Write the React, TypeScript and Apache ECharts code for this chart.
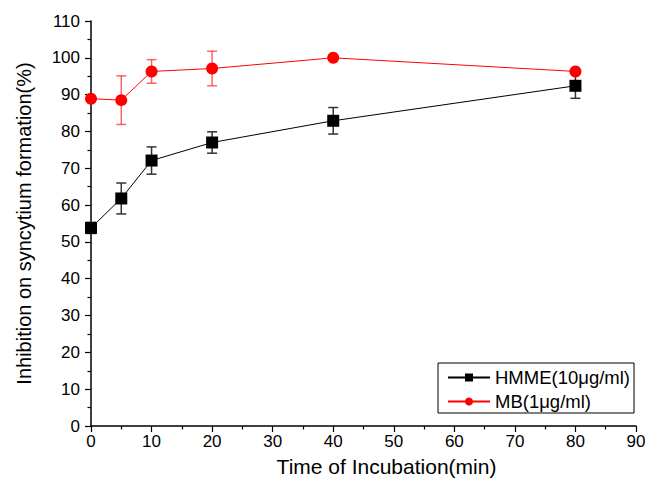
import React, { useEffect, useRef } from "react";
import * as echarts from "echarts";

const times = [0, 5, 10, 20, 40, 80];
const hmmeValues = [53.8, 61.8, 72.1, 77.0, 82.9, 92.4];
const hmmeErrors = [1.5, 4.2, 3.7, 2.9, 3.6, 3.4];
const mbValues = [88.9, 88.5, 96.3, 97.1, 100.0, 96.3];
const mbErrors = [0, 6.6, 3.2, 4.7, 0, 0];
const hmmeName = "HMME(10\u03BCg/ml)";
const mbName = "MB(1\u03BCg/ml)";

const FONT = "'Liberation Sans', Arial, Helvetica, sans-serif";

function errData(vals: number[], errs: number[]) {
  return times
    .map((t, i) => [t, vals[i] - errs[i], vals[i] + errs[i]])
    .filter((_, i) => errs[i] > 0);
}

function errSeries(vals: number[], errs: number[], color: string) {
  return {
    type: "custom",
    z: 1,
    silent: true,
    encode: { x: 0, y: [1, 2] },
    data: errData(vals, errs),
    renderItem: (params: any, api: any) => {
      const x = api.value(0);
      const lo = api.value(1);
      const hi = api.value(2);
      const pTop = api.coord([x, hi]);
      const pBot = api.coord([x, lo]);
      const w = 5;
      const style = { stroke: color, lineWidth: 1.5 };
      return {
        type: "group",
        children: [
          { type: "line", shape: { x1: pTop[0], y1: pTop[1], x2: pBot[0], y2: pBot[1] }, style },
          { type: "line", shape: { x1: pTop[0] - w, y1: pTop[1], x2: pTop[0] + w, y2: pTop[1] }, style },
          { type: "line", shape: { x1: pBot[0] - w, y1: pBot[1], x2: pBot[0] + w, y2: pBot[1] }, style },
        ],
      };
    },
  };
}

export default function App() {
  const ref = useRef<HTMLDivElement>(null);
  useEffect(() => {
    if (!ref.current) return;
    const chart = echarts.init(ref.current, undefined, { renderer: "svg" });
    const axisCommon = {
      axisLine: { show: true, lineStyle: { color: "#000", width: 1.5 } },
      axisTick: { show: true, inside: false, length: 6, lineStyle: { color: "#000", width: 1.2 } },
      minorTick: { show: true, splitNumber: 2, length: 3.5, lineStyle: { color: "#000", width: 1.2 } },
      splitLine: { show: false },
      nameLocation: "middle" as const,
    };
    chart.setOption({
      animation: false,
      backgroundColor: "#fff",
      grid: { left: 91, right: 24, top: 21, bottom: 58, containLabel: false },
      xAxis: {
        type: "value",
        min: 0,
        max: 90,
        interval: 10,
        name: "Time of Incubation(min)",
        nameGap: 30,
        ...axisCommon,
        nameTextStyle: { fontFamily: FONT, fontSize: 21, color: "#000", padding: [0, 0, 0, 46] },
        axisLabel: { fontFamily: FONT, fontSize: 17, color: "#000", margin: 7 },
      },
      yAxis: {
        type: "value",
        min: 0,
        max: 110,
        interval: 10,
        name: "Inhibition on syncytium formation(%)",
        nameGap: 57,
        ...axisCommon,
        nameTextStyle: { fontFamily: FONT, fontSize: 20, color: "#000" },
        axisLabel: { fontFamily: FONT, fontSize: 17, color: "#000", margin: 11 },
      },
      legend: {
        data: [hmmeName, mbName],
        orient: "vertical",
        left: 438,
        top: 363,
        itemWidth: 42,
        itemHeight: 10,
        itemGap: 5,
        padding: [5, 4, 2, 9],
        borderColor: "#000",
        borderWidth: 1,
        borderRadius: 0,
        backgroundColor: "#fff",
        textStyle: { fontFamily: FONT, fontSize: 18.5, color: "#000" },
      },
      series: [
        errSeries(hmmeValues, hmmeErrors, "#333"),
        errSeries(mbValues, mbErrors, "rgba(255,0,0,0.6)"),
        {
          name: hmmeName,
          type: "line",
          z: 3,
          data: times.map((t, i) => [t, hmmeValues[i]]),
          symbol: "rect",
          symbolSize: 12,
          itemStyle: { color: "#000" },
          lineStyle: { color: "#000", width: 1 },
        },
        {
          name: mbName,
          type: "line",
          z: 3,
          data: times.map((t, i) => [t, mbValues[i]]),
          symbol: "circle",
          symbolSize: 12,
          itemStyle: { color: "#ff0000" },
          lineStyle: { color: "#ff0000", width: 1 },
        },
      ],
    });
    return () => chart.dispose();
  }, []);
  return <div ref={ref} style={{ width: 660, height: 484, position: "absolute", left: 0, top: 0 }} />;
}
